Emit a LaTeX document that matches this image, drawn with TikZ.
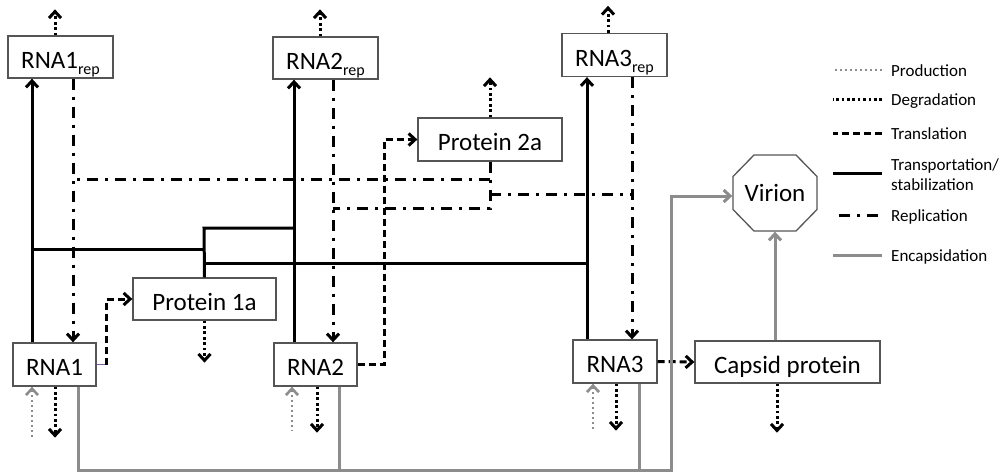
\documentclass[tikz,border=0pt]{standalone}
\usepackage{fontspec}
\setmainfont{Carlito}
\usetikzlibrary{arrows.meta,calc}
\definecolor{boxgray}{RGB}{85,85,85}
\definecolor{encgray}{RGB}{140,140,140}
\definecolor{prodgray}{RGB}{140,140,140}
\definecolor{stray}{RGB}{125,95,165}
\newcommand{\rsub}[1]{\raisebox{-6pt}{\fontsize{16}{16}\selectfont #1}}
\tikzset{
  box/.style={draw=boxgray, line width=1.3pt, inner sep=0pt,
    font=\fontsize{25}{28}\selectfont, text height=22pt, text depth=0pt},
  arr/.style={-{Straight Barb[length=6.5pt,width=12pt]}},
  rarr/.style={{Straight Barb[length=6.5pt,width=12pt]}-},
  transport/.style={line width=3pt},
  repl/.style={line width=3pt, dash pattern=on 11pt off 7pt on 3pt off 7pt},
  transl/.style={line width=3pt, dash pattern=on 7pt off 4pt},
  degr/.style={line width=3pt, dash pattern=on 2.7pt off 2.7pt},
  prod/.style={line width=2.6pt, draw=prodgray, dash pattern=on 2.4pt off 2.6pt},
  encaps/.style={line width=3pt, draw=encgray},
  leg/.style={anchor=west, inner sep=0pt, font=\fontsize{17}{20}\selectfont},
}
\begin{document}
\begin{tikzpicture}[x=1pt,y=-1pt]
\useasboundingbox (0,0) rectangle (1007,472);

% nodes
\node[box, minimum width=105pt, minimum height=42pt] (r1rep) at (60.5,57) {RNA1\rsub{rep}};
\node[box, minimum width=105pt, minimum height=42pt] (r2rep) at (325.5,58) {RNA2\rsub{rep}};
\node[box, minimum width=105pt, minimum height=43pt] (r3rep) at (614.5,55) {RNA3\rsub{rep}};
\node[box, minimum width=144pt, minimum height=43pt] (p2a) at (490,139.5) {Protein 2a};
\node[box, minimum width=143pt, minimum height=42pt] (p1a) at (204.5,299) {Protein 1a};
\node[box, minimum width=83pt, minimum height=43pt] (rna1) at (54.5,364.5) {RNA1};
\node[box, minimum width=83pt, minimum height=43pt] (rna2) at (315.5,364.5) {RNA2};
\node[box, minimum width=84pt, minimum height=43pt] (rna3) at (615,361.5) {RNA3};
\node[box, minimum width=185pt, minimum height=42pt] (capsid) at (787.5,362) {Capsid protein};
\node[box, draw=none, minimum width=84pt, minimum height=76pt, text height=16pt] (virion) at (775,193) {Virion};
\draw[draw=boxgray, line width=1.3pt] (virion.center) ++(-21,-38) -- ++(42,0) -- ++(21,21.5) -- ++(0,33)
  -- ++(-21,21.5) -- ++(-42,0) -- ++(-21,-21.5) -- ++(0,-33) -- cycle;

% transportation / stabilization
\draw[transport,arr] (rna1.north -| 32,0) -- (r1rep.south -| 32,0);
\draw[transport,arr] (rna2.north -| 294,0) -- (r2rep.south -| 294,0);
\draw[transport,arr] (rna3.north -| 587,0) -- (r3rep.south -| 587,0);
\coordinate (tj) at (204,228);
\draw[transport] (p1a.north) -- (tj) -- (294,228);
\draw[transport] (204,249) -- (32,249);
\draw[transport] (204,263) -- (587,263);

% replication
\draw[repl,arr] (r1rep.south -| 73,0) -- (rna1.north -| 73,0);
\draw[repl,arr] (r2rep.south -| 333,0) -- (rna2.north -| 333,0);
\draw[repl,arr] (r3rep.south -| 632,0) -- (rna3.north -| 632,0);
\draw[repl] (p2a.south) -- (490,208) -- (333,208);
\draw[repl] (490,179) -- (73,179);
\draw[repl] (490,194) -- (632,194);

% translation
\coordinate (t1) at (rna1.east -| 106,0);
\draw[stray, line width=1.5pt] (rna1.east) -- (t1);
\draw[transl,arr] (t1) |- (p1a.west);
\draw[transl,arr] (rna2.east) -| (384,250) |- (p2a.west);
\draw[transl,arr] (rna3.east) -- (capsid.west);

% degradation
\draw[degr,arr] (r1rep.north -| 55,0) -- ++(0,-26);
\draw[degr,arr] (r2rep.north -| 320,0) -- ++(0,-27);
\draw[degr,arr] (r3rep.north -| 608,0) -- ++(0,-27);
\draw[degr,arr] (p2a.north) -- ++(0,-40);
\draw[degr,arr] (p1a.south) -- ++(0,42);
\draw[degr,arr] (rna1.south -| 55,0) -- ++(0,51);
\draw[degr,arr] (rna2.south -| 317,0) -- ++(0,46);
\draw[degr,arr] (rna3.south -| 616,0) -- ++(0,47);
\draw[degr,arr] (capsid.south -| 777,0) -- ++(0,49);

% production
\draw[prod,rarr] (rna1.south -| 32,0) -- ++(0,51);
\draw[prod,rarr] (rna2.south -| 292,0) -- ++(0,44);
\draw[prod,rarr] (rna3.south -| 593,0) -- ++(0,47);

% encapsidation
\draw[encaps,arr] (rna1.south -| 78,0) |- (671,470) |- ([yshift=-3pt]virion.west);
\draw[encaps] (rna2.south -| 339,0) -- ++(0,84);
\draw[encaps] (rna3.south -| 639,0) -- ++(0,87);
\draw[encaps,arr] (capsid.north -| virion.south) -- (virion.south);

% legend
\node[leg, text height=12pt, text depth=0pt] (l1) at (891,70) {Production};
\node[leg, text height=12pt, text depth=0pt] (l2) at (891,99) {Degradation};
\node[leg, text height=12pt, text depth=0pt] (l3) at (891,133) {Translation};
\node[leg, align=left] (l4) at (891,175) {Transportation/\\stabilization};
\node[leg, text height=12pt, text depth=0pt] (l5) at (891,215) {Replication};
\node[leg, text height=12pt, text depth=0pt] (l6) at (891,255) {Encapsidation};
\draw[prod, line width=2pt] (l1.west) ++(-9,0) -- ++(-49,0);
\draw[degr] (l2.west) ++(-9,0) -- ++(-49,0);
\draw[transl] (l3.west) ++(-9,0) -- ++(-49,0);
\draw[transport] (l4.west) ++(-9,-2) -- ++(-49,0);
\draw[repl] (l5.west) ++(-13,0) -- ++(-45,0);
\draw[encaps] (l6.west) ++(-9,0) -- ++(-49,0);
\end{tikzpicture}
\end{document}
